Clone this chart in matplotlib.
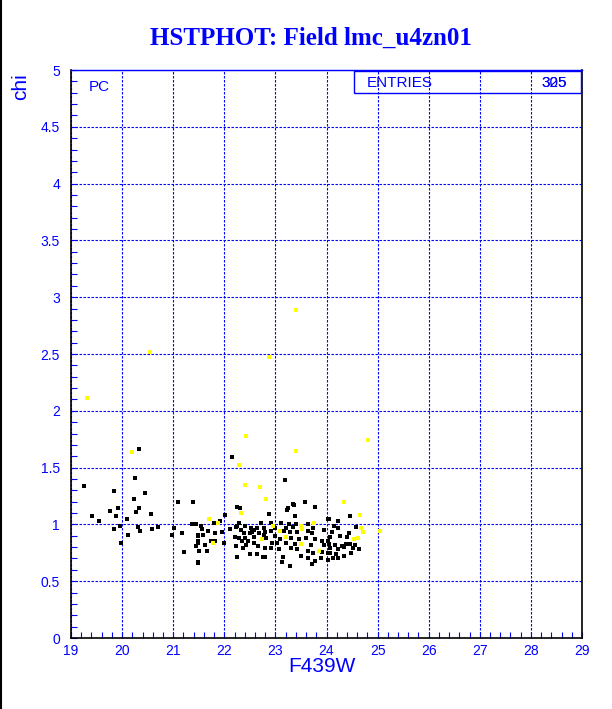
import numpy as np
import matplotlib
matplotlib.use("Agg")
import matplotlib.pyplot as plt
from matplotlib.patches import Rectangle

## ---- data (F439W magnitude vs chi) ----
black_x = [20.33, 19.25, 19.84, 20.26, 20.45, 20.24, 19.92, 20.33, 19.76, 20.28,
           19.88, 19.41, 20.10, 19.55, 20.56, 21.09, 21.39, 19.84, 19.95, 20.31,
           20.35, 20.58, 20.70, 20.12, 19.98, 21.02, 20.98, 21.18, 21.37, 21.48,
           21.48, 21.21, 21.50, 21.45, 21.48, 21.45,
           22.15, 23.19, 22.31, 22.36, 22.23, 22.54,
           22.25, 22.01, 21.92, 21.79, 22.28, 22.72, 21.54, 22.11, 22.25, 22.41,
           22.52, 22.64, 22.33, 22.59, 21.57, 21.69, 21.48, 21.58, 21.82, 21.95,
           22.39, 22.50, 22.67, 22.77, 22.21, 22.29, 22.41, 22.59, 21.49, 21.73,
           21.82, 22.00, 22.34, 22.47, 22.58, 21.62, 22.22, 22.43, 22.65, 21.50,
           21.66, 22.64, 22.76, 22.50, 22.24, 21.48,
           23.37, 23.58, 23.77, 23.22, 22.87, 23.39, 24.02, 22.92, 23.11, 23.27,
           23.41, 23.63, 22.77, 23.00, 23.20, 23.34, 23.73, 23.95, 22.80, 22.91,
           23.16, 23.29, 23.42, 23.64, 23.71, 24.07, 23.00, 22.82, 23.09, 23.31,
           23.46, 23.59, 23.78, 23.92, 24.02, 22.94, 23.04, 23.21, 23.38, 23.70,
           23.95, 22.79, 22.91, 23.07, 23.31, 23.43, 23.63, 23.73, 23.92, 24.02,
           24.07, 22.80, 23.14, 23.50, 23.64, 23.90, 24.02, 23.13, 23.78, 23.29,
           23.72,
           24.46, 24.05, 24.23, 24.58, 24.15, 24.23, 24.11, 24.27, 24.40, 24.44,
           24.06, 24.05, 24.17, 24.30, 24.38, 24.46, 24.55, 24.07, 24.22, 24.34,
           24.51, 24.64, 24.06, 24.19, 24.34, 24.48, 24.13, 24.23,
           23.24, 23.35]
black_y = [1.66, 1.34, 1.29, 1.41, 1.28, 1.22, 1.14, 1.14, 1.12, 1.11,
           1.07, 1.07, 1.05, 1.03, 1.09, 1.20, 1.20, 0.96, 0.99, 0.98,
           0.94, 0.96, 0.98, 0.91, 0.84, 0.97, 0.91, 0.92, 1.00, 0.90,
           0.84, 0.76, 0.77, 0.81, 0.66, 1.00,
           1.59, 1.39, 1.14, 0.79, 0.98, 0.93,
           1.15, 1.08, 1.03, 1.01, 1.01, 1.01, 0.99, 0.96, 0.99, 0.99,
           0.97, 0.97, 0.95, 0.95, 0.96, 0.94, 0.91, 0.91, 0.92, 0.93,
           0.92, 0.92, 0.92, 0.91, 0.89, 0.88, 0.88, 0.89, 0.85, 0.85,
           0.85, 0.84, 0.85, 0.85, 0.84, 0.82, 0.81, 0.82, 0.81, 0.77,
           0.77, 0.74, 0.71, 0.74, 0.71, 0.67,
           1.17, 1.20, 1.15, 1.13, 1.09, 1.07, 1.05, 1.01, 1.01, 1.00,
           1.00, 1.00, 0.97, 0.97, 0.97, 0.98, 0.97, 0.95, 0.93, 0.94,
           0.94, 0.93, 0.93, 0.94, 0.92, 0.89, 0.90, 0.88, 0.87, 0.88,
           0.87, 0.88, 0.87, 0.85, 0.85, 0.84, 0.84, 0.84, 0.83, 0.82,
           0.82, 0.79, 0.79, 0.78, 0.79, 0.78, 0.77, 0.75, 0.76, 0.75,
           0.75, 0.71, 0.71, 0.72, 0.70, 0.70, 0.69, 0.67, 0.68, 0.63,
           0.65,
           1.07, 1.05, 1.03, 0.98, 0.99, 0.97, 0.93, 0.90, 0.89, 0.92,
           0.89, 0.83, 0.82, 0.81, 0.83, 0.83, 0.82, 0.79, 0.78, 0.80,
           0.79, 0.78, 0.75, 0.74, 0.72, 0.75, 0.70, 0.70,
           1.14, 1.18]

yellow_x = [23.41, 22.87, 20.55, 19.31, 22.43, 23.41, 24.82, 22.29, 22.41, 22.70,
            20.20, 21.71, 21.77, 22.82, 22.32, 24.35, 24.66, 23.76, 24.67, 24.71,
            24.62, 24.54, 22.95, 23.09, 23.21, 23.50, 22.74, 21.88, 23.85, 25.05,
            23.52, 23.50]
yellow_y = [2.89, 2.47, 2.52, 2.11, 1.78, 1.65, 1.74, 1.52, 1.35, 1.33,
            1.64, 1.05, 0.84, 1.22, 1.10, 1.20, 1.08, 1.01, 0.97, 0.93,
            0.88, 0.87, 0.99, 0.94, 0.89, 0.99, 0.87, 1.01, 0.77, 0.94,
            0.96, 0.83]

x_ticks = np.arange(19, 30, 1)
y_ticks = np.arange(0, 5.01, 0.5)
y_ticklabels = ["0", "0.5", "1", "1.5", "2", "2.5", "3", "3.5", "4", "4.5", "5"]

title = "HSTPHOT: Field lmc_u4zn01"
entries = ["305", "325"]

BLUE = "#0000ff"

fig = plt.figure(figsize=(6.12, 7.09), dpi=100)
ax = fig.add_axes([71/612, 71/709, 511/612, 568/709])

## small hard-edged squares, like the ROOT markers
sc1 = ax.scatter(black_x, black_y, s=5.5, marker="s", c="black", linewidths=0, zorder=3)
sc2 = ax.scatter(yellow_x, yellow_y, s=5.5, marker="s", c="#ffff00", linewidths=0, zorder=4)
sc1.set_antialiased(False)
sc2.set_antialiased(False)

ax.set_xlim(19, 29)
ax.set_ylim(0, 5)
ax.set_xticks(x_ticks)
ax.set_xticklabels([str(v) for v in x_ticks])
ax.set_yticks(y_ticks)
ax.set_yticklabels(y_ticklabels)
ax.set_xticks(np.arange(19, 29.01, 0.2), minor=True)
ax.set_yticks(np.arange(0, 5.01, 0.1), minor=True)

## ROOT-like dashed blue grid
ax.grid(True, which="major", color=BLUE, linestyle=(0, (2.2, 1.4)), linewidth=0.8)
ax.set_axisbelow(True)

for lab in ax.get_xticklabels() + ax.get_yticklabels():
    lab.set_family("Liberation Sans")
    lab.set_fontsize(10)
    lab.set_color(BLUE)
ax.tick_params(which="both", direction="in", colors=BLUE, length=4.5, width=0.8)
ax.tick_params(axis="x", which="both", pad=4, labelcolor=BLUE)
ax.tick_params(axis="y", which="both", pad=8, labelcolor=BLUE)
ax.tick_params(top=False, right=False)

for sp in ["left", "bottom", "right"]:
    ax.spines[sp].set_color("black")
    ax.spines[sp].set_linewidth(1.2)
ax.spines["top"].set_color(BLUE)
ax.spines["top"].set_linewidth(1.0)

## title and axis labels
fig.text(0.508, 1 - 38/709, title, ha="center", va="center", color=BLUE,
         family="Liberation Serif", weight="bold", fontsize=18)
fig.text(356/612, 1 - 667/709, "F439W", ha="right", va="center", color=BLUE,
         family="Liberation Sans", fontsize=15)
fig.text(21/612, 1 - 73/709, "chi", ha="center", va="top", rotation=90, color=BLUE,
         family="Liberation Sans", fontsize=15)
fig.text(99/612, 1 - 87/709, "PC", ha="center", va="center", color=BLUE,
         family="Liberation Sans", fontsize=11)

## stats box
box = Rectangle((354/612, 1 - 93/709), (581 - 354)/612, 22/709, transform=fig.transFigure,
                fill=False, edgecolor=BLUE, linewidth=1.0, zorder=5)
fig.patches.append(box)
fig.text(367/612, 1 - 83/709, "ENTRIES", ha="left", va="center", color=BLUE,
         family="Liberation Sans", fontsize=11)
for e in entries:
    fig.text(567/612, 1 - 83/709, e, ha="right", va="center", color=BLUE,
             family="Liberation Sans", fontsize=11)

## black border on the left edge of the canvas
fig.add_artist(plt.Line2D([0.0015, 0.0015], [0, 1], transform=fig.transFigure,
                          color="black", linewidth=1.5))

fig.savefig("out.png", dpi=100)
